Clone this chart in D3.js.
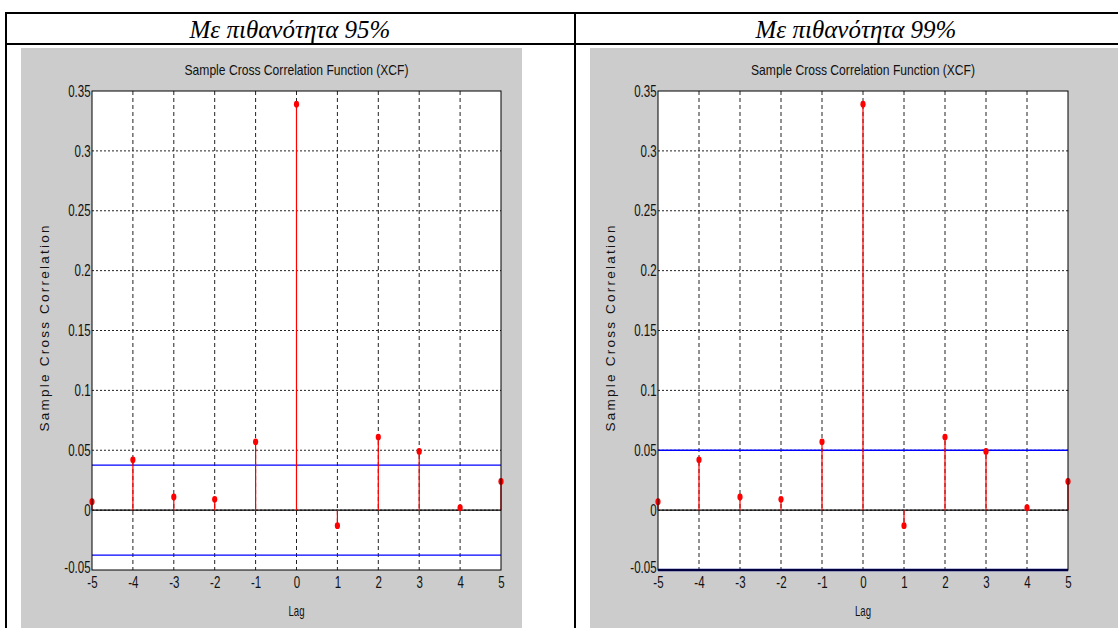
<!DOCTYPE html>
<html>
<head>
<meta charset="utf-8">
<script src="https://cdn.jsdelivr.net/npm/d3@7"></script>
<style>
  body { margin: 0; background: #fff; }
  svg { display: block; }
  .tick text, .ttl, .lbl { font-family: "Liberation Sans", Arial, sans-serif; fill: #111; }
  .hdr { font-family: "Liberation Serif", "Times New Roman", serif; font-style: italic; font-size: 25px; fill: #000; }
</style>
</head>
<body>
<script>
const lags = [-5, -4, -3, -2, -1, 0, 1, 2, 3, 4, 5];
const xcf = [0.007, 0.042, 0.011, 0.009, 0.057, 0.339, -0.013, 0.061, 0.049, 0.002, 0.024];
const headers = ["Με πιθανότητα 95%", "Με πιθανότητα 99%"];
const bounds = [0.0375, 0.05];
const yTicks = [-0.05, 0, 0.05, 0.1, 0.15, 0.2, 0.25, 0.3, 0.35];
const yDomain = [-0.05, 0.35];

const W = 1118, H = 628;
const svg = d3.select("body").append("svg").attr("width", W).attr("height", H);

// table frame
const tbl = svg.append("g").attr("stroke", "#000").attr("stroke-width", 2);
tbl.append("line").attr("x1", 5).attr("x2", 1118).attr("y1", 13).attr("y2", 13);
tbl.append("line").attr("x1", 5).attr("x2", 1118).attr("y1", 44).attr("y2", 44);
[6, 575].forEach(x => tbl.append("line").attr("x1", x).attr("x2", x).attr("y1", 12).attr("y2", H));

const panels = [
  {bg: [21, 48, 501, 580], hx: 290, plot: [92, 501]},
  {bg: [590, 48, 528, 580], hx: 856, plot: [658, 1068]}
];

const fmt = d => (d < 0 ? "-" : "") + String(+Math.abs(d).toFixed(2));

panels.forEach((p, k) => {
  svg.append("text").attr("class", "hdr")
    .attr("x", p.hx).attr("y", 38)
    .attr("text-anchor", "middle").text(headers[k]);

  svg.append("rect").attr("x", p.bg[0]).attr("y", p.bg[1])
    .attr("width", p.bg[2]).attr("height", p.bg[3]).attr("fill", "#cccccc");

  const x = d3.scaleLinear().domain([-5, 5]).range(p.plot);
  const y = d3.scaleLinear().domain(yDomain).range([570, 91]);
  const g = svg.append("g");

  g.append("rect").attr("x", x(-5)).attr("y", y(0.35))
    .attr("width", x(5) - x(-5)).attr("height", y(-0.05) - y(0.35)).attr("fill", "#fff");

  // grid
  g.selectAll(".gx").data(lags.slice(1, -1)).join("line")
    .attr("x1", d => x(d)).attr("x2", d => x(d)).attr("y1", y(0.35)).attr("y2", y(-0.05))
    .attr("stroke", "#222").attr("stroke-dasharray", "4,3").attr("stroke-width", 1);
  g.selectAll(".gy").data(yTicks.slice(1, -1)).join("line")
    .attr("x1", x(-5)).attr("x2", x(5)).attr("y1", d => y(d)).attr("y2", d => y(d))
    .attr("stroke", "#222").attr("stroke-dasharray", "2,2").attr("stroke-width", 1);

  // zero line
  g.append("line").attr("x1", x(-5)).attr("x2", x(5)).attr("y1", y(0)).attr("y2", y(0))
    .attr("stroke", "#000").attr("stroke-width", 1.2);

  // confidence bounds
  g.selectAll(".bd").data([bounds[k], -bounds[k]]).join("line")
    .attr("x1", x(-5)).attr("x2", x(5)).attr("y1", d => y(d)).attr("y2", d => y(d))
    .attr("stroke", (d, i) => (k === 1 && i === 1) ? "#000080" : "#0000ff")
    .attr("stroke-width", (d, i) => (k === 1 && i === 1) ? 2.5 : 1.3);

  // stems
  const pts = lags.map((l, i) => ({l, v: xcf[i]}));
  g.selectAll(".st").data(pts).join("line")
    .attr("x1", d => x(d.l)).attr("x2", d => x(d.l)).attr("y1", y(0)).attr("y2", d => y(d.v))
    .attr("stroke", "#ff0000").attr("stroke-width", 1.2);
  g.selectAll(".mk").data(pts).join("ellipse")
    .attr("cx", d => x(d.l)).attr("cy", d => y(d.v)).attr("rx", 2.6).attr("ry", 3.4)
    .attr("fill", "#ff0000");

  // axes box
  g.append("rect").attr("x", x(-5)).attr("y", y(0.35))
    .attr("width", x(5) - x(-5)).attr("height", y(-0.05) - y(0.35))
    .attr("fill", "none").attr("stroke", "#000").attr("stroke-width", 1);

  const ax = g.append("g").attr("transform", `translate(0,${y(-0.05)})`)
    .call(d3.axisBottom(x).tickValues(lags).tickSize(0).tickPadding(7).tickFormat(fmt));
  ax.select(".domain").remove();
  ax.selectAll("text").attr("font-size", 16).attr("transform", "scale(0.72,1)");

  const ay = g.append("g").attr("transform", `translate(${x(-5)},0)`)
    .call(d3.axisLeft(y).tickValues(yTicks).tickSize(0).tickPadding(2).tickFormat(fmt));
  ay.select(".domain").remove();
  ay.selectAll("text").attr("font-size", 16)
    .attr("transform", d => d === -0.05 ? "translate(0,-3) scale(0.72,1)" : "scale(0.72,1)");

  g.append("text").attr("class", "ttl").attr("x", (x(-5) + x(5)) / 2).attr("y", 75)
    .attr("text-anchor", "middle").attr("font-size", 14.5)
    .attr("textLength", 224).attr("lengthAdjust", "spacingAndGlyphs")
    .text("Sample Cross Correlation Function (XCF)");
  g.append("text").attr("class", "lbl").attr("x", (x(-5) + x(5)) / 2).attr("y", 616)
    .attr("text-anchor", "middle").attr("font-size", 15)
    .attr("textLength", 16).attr("lengthAdjust", "spacingAndGlyphs").text("Lag");
  g.append("text").attr("class", "lbl")
    .attr("transform", `translate(${x(-5) - 43},${y(0.15) - 2}) rotate(-90)`)
    .attr("text-anchor", "middle").attr("font-size", 13.5)
    .attr("textLength", 206).attr("lengthAdjust", "spacing").text("Sample Cross Correlation");
});
</script>
</body>
</html>
